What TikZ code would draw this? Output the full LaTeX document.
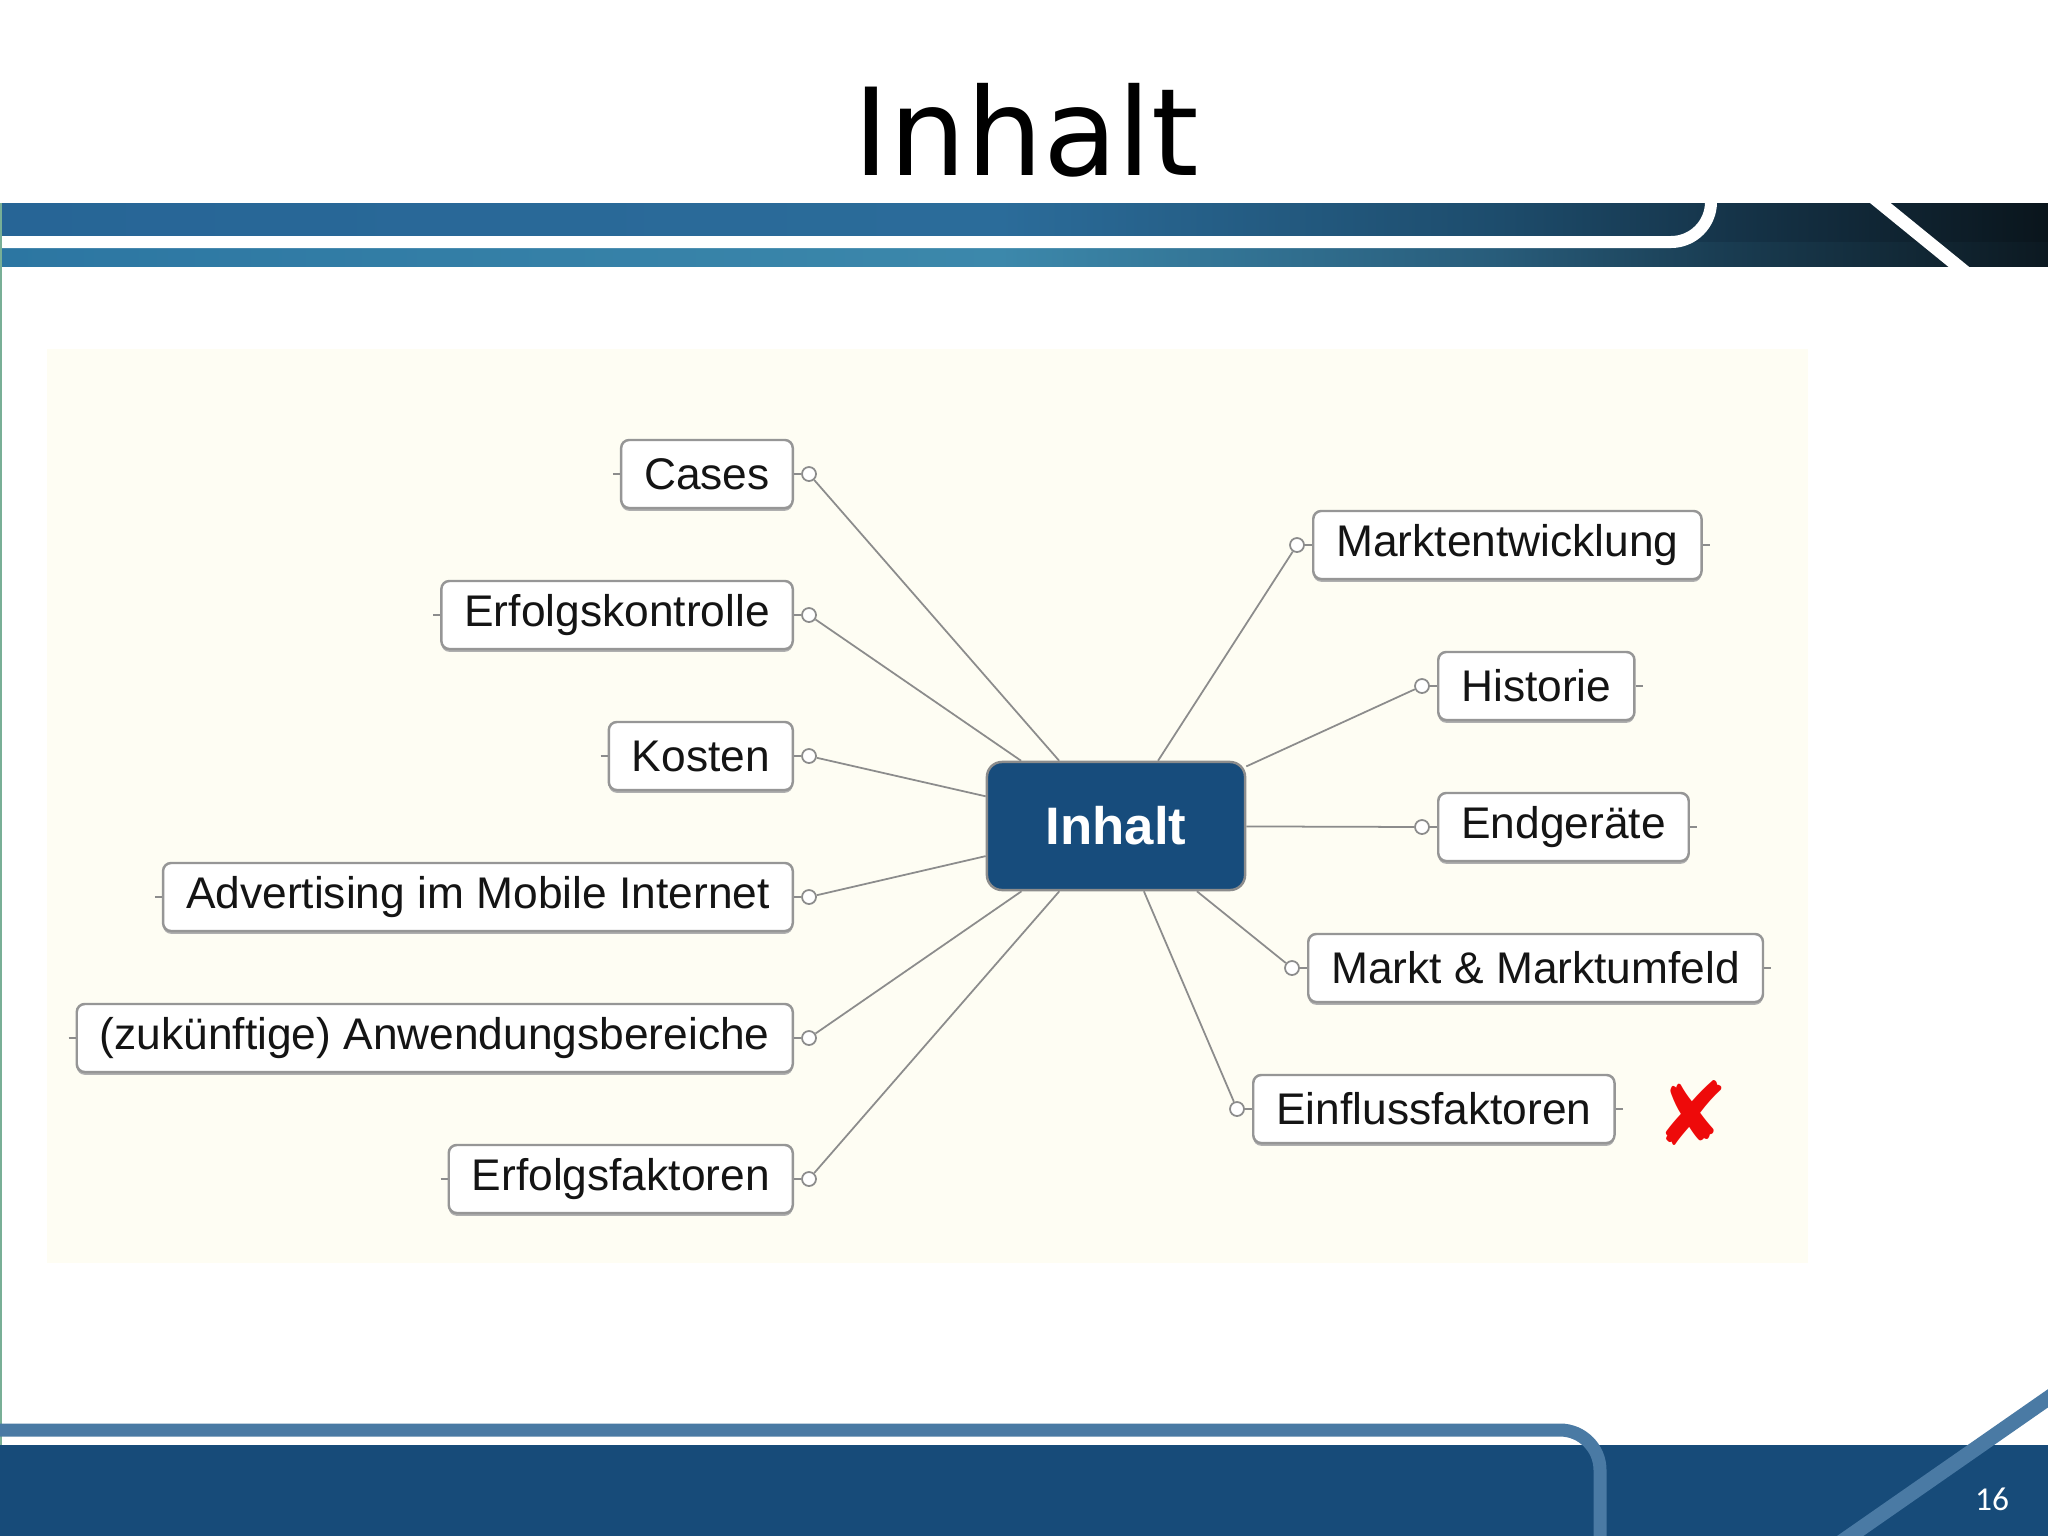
\documentclass[tikz,border=0pt]{standalone}
\usepackage{fontspec}
\setmainfont{Liberation Sans}
\newfontfamily\titlefont{DejaVu Sans}
\newfontfamily\numfont{Carlito}
\newfontfamily\symfont{DejaVu Sans}
\usetikzlibrary{shadows}
\definecolor{uA}{RGB}{39,101,150}
\definecolor{uB}{RGB}{43,108,154}
\definecolor{uC}{RGB}{29,76,108}
\definecolor{uD}{RGB}{22,54,76}
\definecolor{uE}{RGB}{10,21,28}
\definecolor{lA}{RGB}{44,118,162}
\definecolor{lB}{RGB}{60,136,171}
\definecolor{lC}{RGB}{40,92,122}
\definecolor{lD}{RGB}{26,62,84}
\definecolor{lE}{RGB}{12,25,33}
\definecolor{footdark}{RGB}{23,75,121}
\definecolor{footlight}{RGB}{74,122,164}
\definecolor{cream}{RGB}{254,253,243}
\definecolor{nodeborder}{RGB}{150,150,150}
\definecolor{shadowgray}{RGB}{175,175,175}
\definecolor{linegray}{RGB}{140,140,140}
\definecolor{textdark}{RGB}{20,20,20}
\definecolor{centerfill}{RGB}{23,76,124}
\definecolor{crossred}{RGB}{238,10,10}
\definecolor{edgegreen}{RGB}{120,175,150}
\tikzset{
  topic/.style={draw=nodeborder, line width=0.7pt, fill=white, rounded corners=0.08cm,
    minimum height=0.68cm, inner xsep=0.23cm, inner ysep=0pt,
    font=\fontsize{12.6pt}{15pt}\selectfont, text=textdark,
    drop shadow={shadow xshift=0pt, shadow yshift=-0.8pt, opacity=1, fill=shadowgray}},
  centerbox/.style={draw=linegray, line width=0.7pt, fill=centerfill, rounded corners=0.15cm,
    minimum width=2.58cm, minimum height=1.28cm, inner sep=0pt,
    font=\bfseries\fontsize{15pt}{18pt}\selectfont, text=white},
  knob/.style={circle, draw=linegray, fill=white, line width=0.5pt, minimum size=0.14cm, inner sep=0pt},
  link/.style={draw=linegray, line width=0.5pt},
  stub/.style={draw=linegray, line width=0.6pt},
}
\begin{document}
\begin{tikzpicture}[x=0.01cm,y=-0.01cm]
\useasboundingbox (0,0) rectangle (2048,1536);
\fill[white] (0,0) rectangle (2048,1536);
% header band
\begin{scope}
\clip (0,203) rectangle (2048,266);
\shade[left color=uA, right color=uB] (0,203) rectangle (1001,266);
\shade[left color=uB, right color=uC] (1000,203) rectangle (1501,266);
\shade[left color=uC, right color=uD] (1500,203) rectangle (1711,266);
\shade[left color=uD, right color=uE] (1710,203) rectangle (2048,266);
\shade[left color=lA, right color=lB] (0,242) rectangle (1001,266);
\shade[left color=lB, right color=lC] (1000,242) rectangle (1501,266);
\shade[left color=lC, right color=lD] (1500,242) rectangle (1711,266);
\shade[left color=lD, right color=lE] (1710,242) rectangle (2048,266);
\draw[white, line width=0.12cm, rounded corners=0.4cm] (-10,242) -- (1711,242) -- (1711,180);
\draw[white, line width=0.13cm] (1868,193) -- (1970,276);
\end{scope}
\draw[edgegreen, line width=0.02cm] (1,203) -- (1,1445);
% title
\node[font=\titlefont\fontsize{34.5pt}{40pt}\selectfont, anchor=base] (title) at (1026,175) {Inhalt};
% content background
\fill[cream] (47,349) rectangle (1808,1263);
% footer
\begin{scope}
\clip (0,0) rectangle (2048,1536);
\fill[footdark] (0,1445) rectangle (2048,1536);
\draw[footlight, line width=0.13cm, rounded corners=0.4cm] (-10,1430) -- (1600,1430) -- (1600,1560);
\draw[footlight, line width=0.15cm] (1830,1550) -- (2080,1376);
\end{scope}
\node[white, font=\numfont\fontsize{9.5pt}{11pt}\selectfont, anchor=base] (pnum) at (1992,1510) {16};
% mind map
\node[centerbox] (inhalt) at (1116,826) {Inhalt};
\foreach \n/\y/\t in {cases/474/{Cases}, kontrolle/615/{Erfolgskontrolle}, kosten/756/{Kosten},
    advert/897/{Advertising im Mobile Internet}, anwend/1038/{(zukünftige) Anwendungsbereiche},
    faktoren/1179/{Erfolgsfaktoren}}{
  \node[topic, anchor=east] (\n) at (794,\y) {\t};
  \node[knob] (k\n) at (809,\y) {};
  \coordinate (t\n) at ([xshift=-0.07cm]\n.west);
  \draw[stub] (t\n) -- (\n.west);
  \draw[stub] (\n.east) -- (k\n);
  \draw[link] (k\n) -- (inhalt);
}
\foreach \n/\x/\y/\t in {markt/1312/545/{Marktentwicklung}, historie/1437/686/{Historie},
    geraete/1437/827/{Endgeräte}, umfeld/1307/968/{Markt \& Marktumfeld},
    einfluss/1252/1109/{Einflussfaktoren}}{
  \node[topic, anchor=west] (\n) at (\x,\y) {\t};
  \node[knob] (k\n) at ([xshift=-0.15cm]\n.west) {};
  \coordinate (t\n) at ([xshift=0.07cm]\n.east);
  \draw[stub] (\n.east) -- (t\n);
  \draw[stub] (k\n) -- (\n.west);
  \draw[link] (k\n) -- (inhalt);
}
\node[text=crossred, font=\symfont\fontsize{25pt}{25pt}\selectfont] (cross) at (1692,1113) {✘};
\end{tikzpicture}
\end{document}
